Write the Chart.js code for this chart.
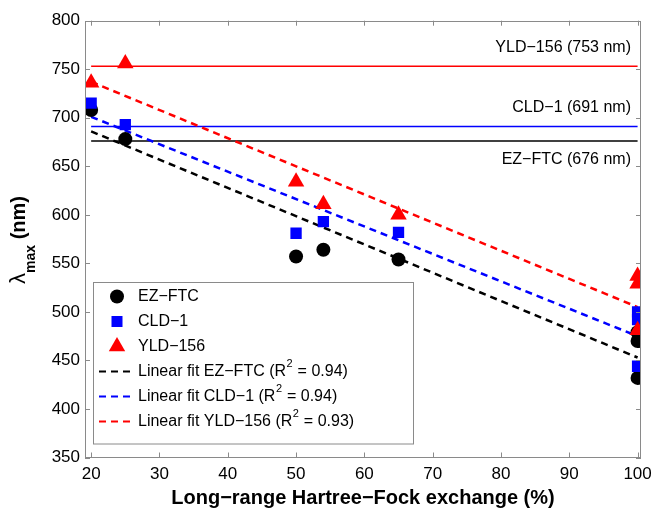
<!DOCTYPE html>
<html>
<head>
<meta charset="utf-8">
<script src="https://cdn.jsdelivr.net/npm/chart.js@4"></script>
<style>
  html, body { margin: 0; padding: 0; background: #fff; }
  #wrap { width: 655px; height: 508px; }
</style>
</head>
<body>
<div id="wrap"><canvas id="lambda"></canvas></div>
<script>
// long-range HF exchange (%) for each computed point
const hfExchange = [20, 25, 50, 54, 65, 100, 100, 100];
const ezFtc = [708, 678, 557, 564, 554, 479, 470, 432];
const cld1 = [715, 693, 581, 593, 582, 500, 492, 444];
const yld156 = [736, 756, 634, 611, 600, 537, 529, 481];

// linear fit end points
const fitX = [20, 100];
const ezFit = [686, 453];
const cldFit = [701, 475];
const yldFit = [737, 505];

// experimental values (horizontal lines)
const refNames = ['YLD−156', 'CLD−1', 'EZ−FTC'];
const refValues = [753, 691, 676];
const refColors = ['#ff0000', '#0000ff', '#000000'];

const xTicks = [20, 30, 40, 50, 60, 70, 80, 90, 100];
const yTicks = [350, 400, 450, 500, 550, 600, 650, 700, 750, 800];

const fontFam = '"Liberation Sans", Arial, Helvetica, sans-serif';

const pts = (xs, ys) => xs.map((x, i) => ({ x: x, y: ys[i] }));
const flat = (v) => [{ x: xTicks[0], y: v }, { x: xTicks[xTicks.length - 1], y: v }];

const datasets = [
    { label: 'YLD-156', data: pts(hfExchange, yld156), pointStyle: 'triangle', pointRadius: 9.5,
      backgroundColor: '#ff0000', borderColor: '#ff0000', borderWidth: 0, order: 1 },
    { label: 'CLD-1', data: pts(hfExchange, cld1), pointStyle: 'rect', pointRadius: 8,
      backgroundColor: '#0000ff', borderColor: '#0000ff', borderWidth: 0, order: 2 },
    { label: 'EZ-FTC', data: pts(hfExchange, ezFtc), pointStyle: 'circle', pointRadius: 7,
      backgroundColor: '#000000', borderColor: '#000000', borderWidth: 0, order: 3 },
    { label: 'fit EZ', data: pts(fitX, ezFit), showLine: true, pointRadius: 0, borderColor: '#000000',
      borderWidth: 2.5, borderDash: [7, 5], order: 4 },
    { label: 'fit CLD', data: pts(fitX, cldFit), showLine: true, pointRadius: 0, borderColor: '#0000ff',
      borderWidth: 2.5, borderDash: [7, 5], order: 5 },
    { label: 'fit YLD', data: pts(fitX, yldFit), showLine: true, pointRadius: 0, borderColor: '#ff0000',
      borderWidth: 2.5, borderDash: [7, 5], order: 6 }
];
refValues.forEach((v, i) => {
    datasets.push({ label: refNames[i], data: flat(v), showLine: true, pointRadius: 0,
        borderColor: refColors[i], borderWidth: 1.5, order: 7 + i });
});

const legendRows = [
    { kind: 'circle', color: '#000000', text: 'EZ−FTC' },
    { kind: 'rect', color: '#0000ff', text: 'CLD−1' },
    { kind: 'triangle', color: '#ff0000', text: 'YLD−156' },
    { kind: 'dash', color: '#000000', text: 'Linear fit EZ−FTC (R', r2: '0.94' },
    { kind: 'dash', color: '#0000ff', text: 'Linear fit CLD−1 (R', r2: '0.94' },
    { kind: 'dash', color: '#ff0000', text: 'Linear fit YLD−156 (R', r2: '0.93' }
];

const decor = {
    id: 'decor',
    afterDraw(chart) {
        const ctx = chart.ctx;
        const a = chart.chartArea;
        const xs = chart.scales.x, ys = chart.scales.y;
        ctx.save();

        // box + inward ticks
        ctx.strokeStyle = '#8a8a8a';
        ctx.lineWidth = 1;
        ctx.strokeRect(Math.round(a.left) + 0.5, Math.round(a.top) + 0.5,
            Math.round(a.right - a.left) - 1, Math.round(a.bottom - a.top) - 1);
        ctx.beginPath();
        xTicks.forEach(v => {
            const px = Math.round(xs.getPixelForValue(v)) + 0.5;
            ctx.moveTo(px, a.bottom); ctx.lineTo(px, a.bottom - 5);
            ctx.moveTo(px, a.top); ctx.lineTo(px, a.top + 5);
        });
        yTicks.forEach(v => {
            const py = Math.round(ys.getPixelForValue(v)) + 0.5;
            ctx.moveTo(a.left, py); ctx.lineTo(a.left + 5, py);
            ctx.moveTo(a.right, py); ctx.lineTo(a.right - 5, py);
        });
        ctx.stroke();

        // labels for the experimental lines
        ctx.fillStyle = '#000';
        ctx.font = '16px ' + fontFam;
        ctx.textAlign = 'right';
        ctx.textBaseline = 'middle';
        refValues.forEach((v, i) => {
            const py = ys.getPixelForValue(v);
            const off = i === 2 ? 19 : -19;
            ctx.fillText(refNames[i] + ' (' + v + ' nm)', 631, py + off);
        });

        // legend
        const lx = 93.5, ly = 282.5, lw = 320, lh = 161.5;
        ctx.fillStyle = '#fff';
        ctx.fillRect(lx, ly, lw, lh);
        ctx.strokeStyle = '#8a8a8a';
        ctx.strokeRect(lx, ly, lw, lh);
        legendRows.forEach((r, i) => {
            const cy = 296.5 + i * 25;
            ctx.fillStyle = r.color;
            ctx.strokeStyle = r.color;
            if (r.kind === 'circle') {
                ctx.beginPath(); ctx.arc(117, cy, 7, 0, Math.PI * 2); ctx.fill();
            } else if (r.kind === 'rect') {
                ctx.fillRect(117 - 5.5, cy - 5.5, 11, 11);
            } else if (r.kind === 'triangle') {
                ctx.beginPath();
                ctx.moveTo(117, cy - 9.5);
                ctx.lineTo(117 + 8.2, cy + 4.75);
                ctx.lineTo(117 - 8.2, cy + 4.75);
                ctx.closePath(); ctx.fill();
            } else {
                ctx.lineWidth = 2;
                ctx.setLineDash([7, 5]);
                ctx.beginPath(); ctx.moveTo(99, cy); ctx.lineTo(135, cy); ctx.stroke();
                ctx.setLineDash([]);
            }
            ctx.fillStyle = '#000';
            ctx.textAlign = 'left';
            ctx.font = '16px ' + fontFam;
            let tx = 138;
            ctx.fillText(r.text, tx, cy);
            if (r.r2) {
                tx += ctx.measureText(r.text).width;
                ctx.font = '11px ' + fontFam;
                ctx.fillText('2', tx + 0.5, cy - 8);
                tx += ctx.measureText('2').width + 1;
                ctx.font = '16px ' + fontFam;
                ctx.fillText(' = ' + r.r2 + ')', tx, cy);
            }
        });

        // x axis title
        ctx.fillStyle = '#000';
        ctx.font = 'bold 20px ' + fontFam;
        ctx.textAlign = 'center';
        ctx.textBaseline = 'middle';
        ctx.fillText('Long−range Hartree−Fock exchange (%)', (a.left + a.right) / 2, 498);

        // y axis title: lambda_max (nm)
        ctx.translate(19, 240);
        ctx.rotate(-Math.PI / 2);
        const f1 = '22px ' + fontFam, f2 = 'bold 14px ' + fontFam, f3 = 'bold 20px ' + fontFam;
        ctx.font = f1; const w1 = ctx.measureText('λ').width;
        ctx.font = f2; const w2 = ctx.measureText('max').width;
        ctx.font = f3; const w3 = ctx.measureText(' (nm)').width;
        let sx = -(w1 + w2 + w3) / 2;
        ctx.textAlign = 'left';
        ctx.textBaseline = 'alphabetic';
        ctx.font = f1; ctx.fillText('λ', sx, 6); sx += w1;
        ctx.font = f2; ctx.fillText('max', sx, 16); sx += w2;
        ctx.font = f3; ctx.fillText(' (nm)', sx, 6);
        ctx.restore();
    }
};

new Chart(document.getElementById('lambda'), {
    type: 'scatter',
    data: { datasets: datasets },
    options: {
        responsive: true,
        maintainAspectRatio: false,
        animation: false,
        layout: { padding: { left: 0, right: 14, top: 20.7, bottom: 0 } },
        plugins: {
            legend: { display: false },
            tooltip: { enabled: false }
        },
        scales: {
            x: {
                type: 'linear',
                min: 19.1,
                max: 100.5,
                afterBuildTicks: s => { s.ticks = xTicks.map(v => ({ value: v })); },
                afterFit: s => { s.height = 50.5; s.paddingLeft = 0; s.paddingRight = 0; },
                grid: { display: false, drawTicks: false },
                border: { display: false },
                ticks: { color: '#000', padding: 7, maxRotation: 0, font: { family: fontFam, size: 17 } }
            },
            y: {
                type: 'linear',
                min: 350,
                max: 800,
                afterBuildTicks: s => { s.ticks = yTicks.map(v => ({ value: v })); },
                afterFit: s => { s.width = 85; s.paddingTop = 0; s.paddingBottom = 0; },
                grid: { display: false, drawTicks: false },
                border: { display: false },
                ticks: { color: '#000', padding: 5, font: { family: fontFam, size: 17 } }
            }
        }
    },
    plugins: [decor]
});
</script>
</body>
</html>
